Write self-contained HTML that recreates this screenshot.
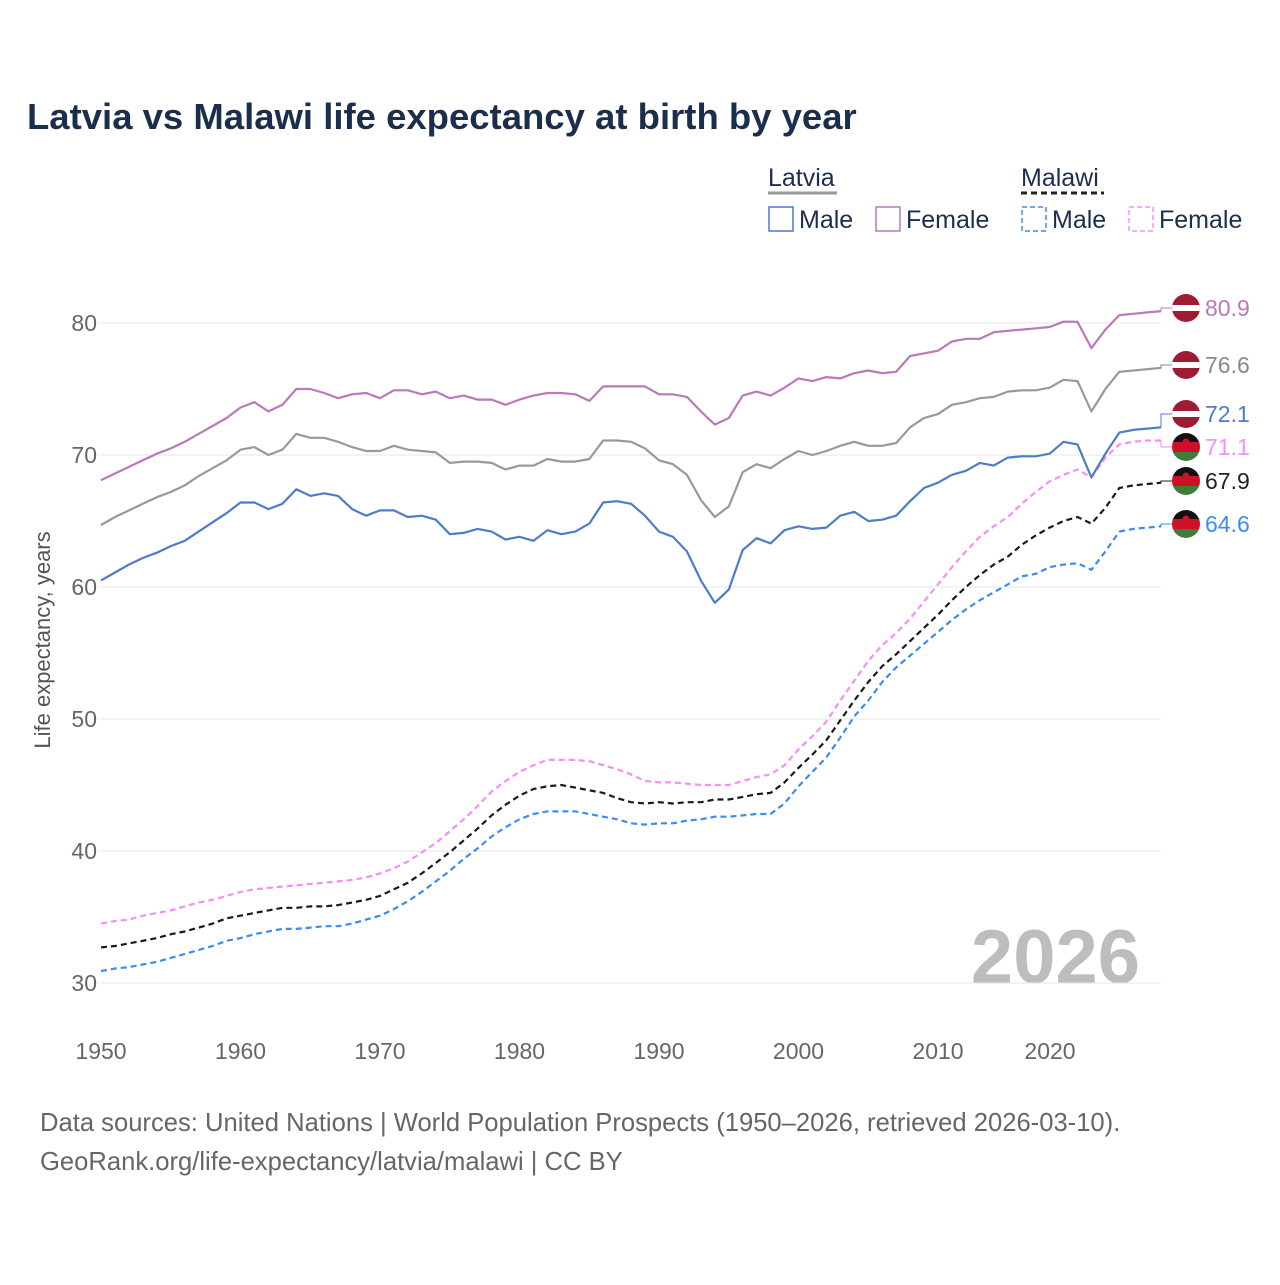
<!DOCTYPE html>
<html><head><meta charset="utf-8"><style>
body{margin:0;background:#fff;font-family:"Liberation Sans",sans-serif}
</style></head><body>
<svg width="1280" height="1280" xmlns="http://www.w3.org/2000/svg" font-family="Liberation Sans, sans-serif">
<rect width="1280" height="1280" fill="#fff"/>
<text x="27" y="129" font-size="36.5" font-weight="bold" fill="#1b2f4d">Latvia vs Malawi life expectancy at birth by year</text>
<g font-size="25" fill="#1b2f4d">
<text x="768" y="186">Latvia</text>
<line x1="768" y1="193" x2="837" y2="193" stroke="#999" stroke-width="3"/>
<text x="1021" y="186">Malawi</text>
<line x1="1021" y1="193" x2="1104" y2="193" stroke="#222" stroke-width="3" stroke-dasharray="6,4"/>
<rect x="769" y="207" width="24" height="24" fill="none" stroke="#4f7bc9" stroke-width="1.5"/>
<text x="799" y="228">Male</text>
<rect x="876" y="207" width="24" height="24" fill="none" stroke="#b87ab8" stroke-width="1.5"/>
<text x="906" y="228">Female</text>
<rect x="1022" y="207" width="24" height="24" fill="none" stroke="#3b8bf5" stroke-width="1.5" stroke-dasharray="5,3"/>
<text x="1052" y="228">Male</text>
<rect x="1129" y="207" width="24" height="24" fill="none" stroke="#f58ef5" stroke-width="1.5" stroke-dasharray="5,3"/>
<text x="1159" y="228">Female</text>
</g>
<text x="1140" y="983" text-anchor="end" font-size="76" font-weight="bold" fill="#bdbdbd">2026</text>
<g id="grid"></g>
<g id="series"></g>
<g id="ends"></g>
<text transform="translate(50,640) rotate(-90)" text-anchor="middle" font-size="22" fill="#555">Life expectancy, years</text>
<text x="40" y="1131" font-size="25.6" fill="#666">Data sources: United Nations | World Population Prospects (1950–2026, retrieved 2026-03-10).</text>
<text x="40" y="1170" font-size="25.6" fill="#666">GeoRank.org/life-expectancy/latvia/malawi | CC BY</text>
</svg>
<script>
const years=[];for(let y=1950;y<=2026;y++)years.push(y);
const latviaFemale=[68.1,68.6,69.1,69.6,70.1,70.5,71.0,71.6,72.2,72.8,
73.6,74.0,73.3,73.8,75.0,75.0,74.7,74.3,74.6,74.7,
74.3,74.9,74.9,74.6,74.8,74.3,74.5,74.2,74.2,73.8,
74.2,74.5,74.7,74.7,74.6,74.1,75.2,75.2,75.2,75.2,
74.6,74.6,74.4,73.3,72.3,72.8,74.5,74.8,74.5,75.1,
75.8,75.6,75.9,75.8,76.2,76.4,76.2,76.3,77.5,77.7,
77.9,78.6,78.8,78.8,79.3,79.4,79.5,79.6,79.7,80.1,
80.1,78.1,79.5,80.6,80.7,80.8,80.9];
const latviaTotal=[64.7,65.3,65.8,66.3,66.8,67.2,67.7,68.4,69.0,69.6,
70.4,70.6,70.0,70.4,71.6,71.3,71.3,71.0,70.6,70.3,
70.3,70.7,70.4,70.3,70.2,69.4,69.5,69.5,69.4,68.9,
69.2,69.2,69.7,69.5,69.5,69.7,71.1,71.1,71.0,70.5,
69.6,69.3,68.5,66.6,65.3,66.1,68.7,69.3,69.0,69.7,
70.3,70.0,70.3,70.7,71.0,70.7,70.7,70.9,72.1,72.8,
73.1,73.8,74.0,74.3,74.4,74.8,74.9,74.9,75.1,75.7,
75.6,73.3,75.0,76.3,76.4,76.5,76.6];
const latviaMale=[60.5,61.1,61.7,62.2,62.6,63.1,63.5,64.2,64.9,65.6,
66.4,66.4,65.9,66.3,67.4,66.9,67.1,66.9,65.9,65.4,
65.8,65.8,65.3,65.4,65.1,64.0,64.1,64.4,64.2,63.6,
63.8,63.5,64.3,64.0,64.2,64.8,66.4,66.5,66.3,65.4,
64.2,63.8,62.7,60.5,58.8,59.8,62.8,63.7,63.3,64.3,
64.6,64.4,64.5,65.4,65.7,65.0,65.1,65.4,66.5,67.5,
67.9,68.5,68.8,69.4,69.2,69.8,69.9,69.9,70.1,71.0,
70.8,68.3,70.1,71.7,71.9,72.0,72.1];
const malawiFemale=[34.5,34.7,34.8,35.1,35.3,35.5,35.8,36.1,36.3,36.6,
36.9,37.1,37.2,37.3,37.4,37.5,37.6,37.7,37.8,38.0,
38.3,38.7,39.2,39.9,40.6,41.5,42.4,43.4,44.5,45.3,
46.0,46.5,46.9,46.9,46.9,46.8,46.5,46.2,45.8,45.3,
45.2,45.2,45.1,45.0,45.0,45.0,45.3,45.6,45.8,46.5,
47.7,48.7,49.8,51.4,52.9,54.4,55.6,56.5,57.6,58.9,
60.2,61.5,62.7,63.8,64.6,65.3,66.3,67.2,68.0,68.5,
68.9,68.3,69.8,70.8,71.0,71.1,71.1];
const malawiTotal=[32.7,32.8,33.0,33.2,33.4,33.7,33.9,34.2,34.5,34.9,
35.1,35.3,35.5,35.7,35.7,35.8,35.8,35.9,36.1,36.3,
36.6,37.1,37.6,38.3,39.1,39.9,40.8,41.7,42.7,43.5,
44.2,44.7,44.9,45.0,44.8,44.6,44.4,44.0,43.7,43.6,
43.7,43.6,43.7,43.7,43.9,43.9,44.1,44.3,44.4,45.2,
46.3,47.3,48.4,49.9,51.4,52.8,54.0,54.9,55.9,56.9,
57.9,59.0,60.0,60.9,61.7,62.3,63.2,63.9,64.5,65.0,
65.3,64.8,66.0,67.5,67.7,67.8,67.9];
const malawiMale=[30.9,31.1,31.2,31.4,31.6,31.9,32.2,32.5,32.8,33.2,
33.4,33.7,33.9,34.1,34.1,34.2,34.3,34.3,34.5,34.8,
35.1,35.6,36.2,36.9,37.7,38.5,39.4,40.2,41.1,41.8,
42.4,42.8,43.0,43.0,43.0,42.8,42.6,42.4,42.1,42.0,
42.1,42.1,42.3,42.4,42.6,42.6,42.7,42.8,42.8,43.6,
44.9,46.0,47.1,48.6,50.2,51.4,52.8,53.9,54.8,55.7,
56.6,57.5,58.3,59.0,59.6,60.2,60.8,61.0,61.5,61.7,
61.8,61.3,62.7,64.2,64.4,64.5,64.6];
const yTicks=[30,40,50,60,70,80];
const xTicks=[1950,1960,1970,1980,1990,2000,2010,2020];
const NS="http://www.w3.org/2000/svg";
const X=y=>101+(y-1950)*13.95;
const Y=v=>323+(80-v)*13.2;
function mk(t,a,p){const e=document.createElementNS(NS,t);for(const k in a)e.setAttribute(k,a[k]);p.appendChild(e);return e;}
const grid=document.getElementById('grid');
yTicks.forEach(t=>{
 const l=mk('line',{x1:101,x2:1161,y1:Y(t),y2:Y(t),stroke:'#e6e6e6','stroke-width':1},grid);
 
 
 const tx=mk('text',{x:97,y:Y(t)+8,'text-anchor':'end','font-size':23,fill:'#666'},grid);
 tx.textContent=t;
 
 
});
xTicks.forEach(t=>{
 const tx=mk('text',{x:t===2020?1050:X(t),y:1059,'text-anchor':'middle','font-size':23,fill:'#666'},grid);
 tx.textContent=t;
 
 
});
const series=[
 {d:malawiMale,c:'#3b8bf5',dash:'6,4',n:'malawi-male-line'},
 {d:malawiTotal,c:'#1a1a1a',dash:'6,4',n:'malawi-total-line'},
 {d:malawiFemale,c:'#f58ef5',dash:'6,4',n:'malawi-female-line'},
 {d:latviaMale,c:'#4f7bc9',dash:'',n:'latvia-male-line'},
 {d:latviaTotal,c:'#999999',dash:'',n:'latvia-total-line'},
 {d:latviaFemale,c:'#b87ab8',dash:'',n:'latvia-female-line'}];
const sg=document.getElementById('series');
series.forEach(s=>{
 const pts=s.d.map((v,i)=>X(years[i]).toFixed(1)+','+Y(v).toFixed(1)).join(' ');
 const p=mk('polyline',{points:pts,fill:'none',stroke:s.c,'stroke-width':2.2,'stroke-dasharray':s.dash,'stroke-linejoin':'round'},sg);
 
 
});
const ends=[
 {d:latviaFemale,c:'#b87ab8',ly:308,f:'lv',n:'latvia-female-end-label'},
 {d:latviaTotal,c:'#888',ly:365,f:'lv',n:'latvia-total-end-label'},
 {d:latviaMale,c:'#4f7bc9',ly:414,f:'lv',n:'latvia-male-end-label'},
 {d:malawiFemale,c:'#f58ef5',ly:447,f:'mw',n:'malawi-female-end-label'},
 {d:malawiTotal,c:'#222',ly:481,f:'mw',n:'malawi-total-end-label'},
 {d:malawiMale,c:'#3b8bf5',ly:524,f:'mw',n:'malawi-male-end-label'}];
const eg=document.getElementById('ends');
ends.forEach((e,k)=>{
 const v=e.d[e.d.length-1];
 mk('polyline',{points:`1161,${Y(v)} 1161,${e.ly} 1172,${e.ly}`,fill:'none',stroke:e.c,'stroke-width':1},eg);
 const cid='c'+k;
 const cp=mk('clipPath',{id:cid},eg);
 mk('circle',{cx:1186,cy:e.ly,r:14},cp);
 const g=mk('g',{'clip-path':`url(#${cid})`},eg);
 
 
 if(e.f==='lv'){
  mk('rect',{x:1172,y:e.ly-14,width:28,height:28,fill:'#9e1b32'},g);
  mk('rect',{x:1172,y:e.ly-3,width:28,height:6,fill:'#fff'},g);
 }else{
  mk('rect',{x:1172,y:e.ly-14,width:28,height:10,fill:'#111'},g);
  mk('rect',{x:1172,y:e.ly-5,width:28,height:10,fill:'#ce1126'},g);
  mk('rect',{x:1172,y:e.ly+5,width:28,height:10,fill:'#3f7e3a'},g);
  mk('circle',{cx:1186,cy:e.ly-5,r:3.5,fill:'#ce1126'},g);
 }
 const t=mk('text',{x:1205,y:e.ly+8,'font-size':23,fill:e.c},eg);
 t.textContent=v.toFixed(1);
 
 
});
</script>
</body></html>
